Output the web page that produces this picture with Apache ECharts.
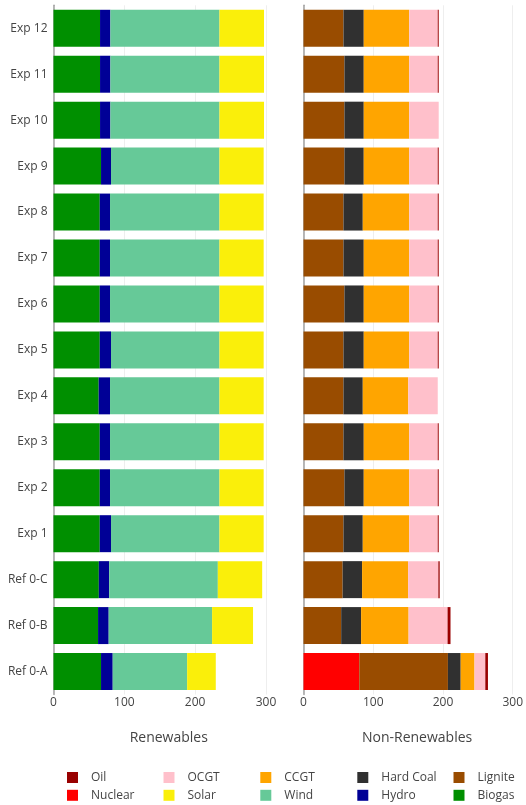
<!DOCTYPE html>
<html>
<head>
<meta charset="utf-8">
<script src="https://cdn.jsdelivr.net/npm/echarts@6/dist/echarts.min.js"></script>
<style>
  html, body { margin: 0; padding: 0; background: #fff; }
  #chart { width: 526px; height: 805px; }
</style>
</head>
<body>
<div id="chart"></div>
<script>
// Categories, bottom to top
const categories = ['Ref 0-A', 'Ref 0-B', 'Ref 0-C', 'Exp 1', 'Exp 2', 'Exp 3', 'Exp 4', 'Exp 5', 'Exp 6', 'Exp 7', 'Exp 8', 'Exp 9', 'Exp 10', 'Exp 11', 'Exp 12'];

// Renewables
const biogas = [67.1, 62.9, 64.0, 65.3, 65.3, 65.3, 63.8, 65.3, 65.3, 65.3, 65.3, 67.1, 65.7, 65.7, 65.7];
const hydro  = [16.5, 15.0, 14.6, 15.9, 14.5, 14.5, 16.0, 15.9, 14.5, 14.5, 14.5, 14.1, 14.6, 14.6, 14.6];
const wind   = [105.1, 146.0, 153.4, 153.1, 154.5, 154.5, 154.5, 153.1, 154.5, 154.5, 154.5, 153.1, 154.0, 154.0, 154.0];
const solar  = [40.4, 57.8, 62.6, 62.4, 62.4, 62.4, 62.4, 62.4, 62.4, 62.4, 62.4, 62.4, 62.9, 62.9, 62.9];

// Non-renewables
const nuclear  = [80.0, 0, 0, 0, 0, 0, 0, 0, 0, 0, 0, 0, 0, 0, 0];
const lignite  = [127.1, 54.0, 56.1, 57.3, 58.7, 57.3, 57.3, 57.3, 58.7, 57.3, 57.3, 58.7, 58.7, 58.7, 57.3];
const hardCoal = [18.3, 28.6, 27.9, 27.7, 27.7, 29.1, 27.7, 29.1, 27.7, 29.1, 27.7, 27.7, 27.7, 27.7, 29.1];
const ccgt     = [19.8, 68.1, 66.0, 66.6, 65.2, 65.2, 65.2, 65.2, 65.2, 65.2, 66.6, 65.2, 65.2, 65.2, 65.2];
const ocgt     = [15.5, 55.9, 43.4, 40.9, 40.9, 40.9, 42.3, 40.9, 40.9, 40.9, 40.9, 40.9, 42.3, 40.9, 40.9];
const oil      = [3.8, 4.2, 1.9, 1.4, 1.4, 1.4, 0, 1.4, 1.4, 1.4, 1.4, 1.4, 0, 1.4, 1.4];

const xTicks = [0, 100, 200, 300];

const colors = {
  'Biogas': '#008f00', 'Hydro': '#000096', 'Wind': '#66c998', 'Solar': '#faef0a',
  'Nuclear': '#ff0000', 'Lignite': '#994c00', 'Hard Coal': '#303030', 'CCGT': '#ffa500',
  'OCGT': '#ffc0cb', 'Oil': '#990000'
};

const FONT = 'Open Sans';
const TXT = '#444';

const chart = echarts.init(document.getElementById('chart'), null, { renderer: 'canvas' });

function barSeries(name, data, idx) {
  return {
    name: name, type: 'bar', stack: 'g' + idx, data: data,
    xAxisIndex: idx, yAxisIndex: idx,
    barCategoryGap: '19.5%',
    itemStyle: { color: colors[name] },
    emphasis: { disabled: true },
    animation: false
  };
}

function xAxisDef(idx, name) {
  return {
    type: 'value', gridIndex: idx, min: xTicks[0], max: xTicks[xTicks.length - 1], interval: 100,
    name: name, nameLocation: 'middle', nameGap: 37,
    nameTextStyle: { fontFamily: FONT, fontSize: 14, color: TXT, padding: [0, 0, 0, 18] },
    axisLine: { show: false }, axisTick: { show: false },
    axisLabel: { fontFamily: FONT, fontSize: 12, color: TXT, margin: 2 },
    splitLine: { show: true, lineStyle: { color: '#eeeeee', width: 1 } }
  };
}

function yAxisDef(idx, showLabels) {
  return {
    type: 'category', gridIndex: idx, data: categories,
    axisLine: { show: true, onZero: false, lineStyle: { color: '#a0a0a0', width: 1.5 } },
    axisTick: { show: false },
    axisLabel: { show: showLabels, fontFamily: FONT, fontSize: 12, color: TXT, margin: 6 },
    splitLine: { show: false }
  };
}

// legend layout: row-major, 5 columns
const legendRows = [
  ['Oil', 'OCGT', 'CCGT', 'Hard Coal', 'Lignite'],
  ['Nuclear', 'Solar', 'Wind', 'Hydro', 'Biogas']
];
const colLeft = [67, 163.5, 260.3, 357.3, 453.5];
const rowTop = [770.5, 788.3];
const legends = [];
legendRows.forEach((row, r) => {
  row.forEach((name, c) => {
    legends.push({
      data: [name], orient: 'horizontal', left: colLeft[c], top: rowTop[r], padding: 0,
      itemWidth: 11, itemHeight: 11, icon: 'rect', selectedMode: false,
      textStyle: { fontFamily: FONT, fontSize: 12, color: TXT, lineHeight: 14, padding: [0, 0, 0, 8] }
    });
  });
});

const option = {
  backgroundColor: '#ffffff',
  animation: false,
  textStyle: { fontFamily: FONT },
  grid: [
    { left: 53.5, top: 5.3, width: 212.5, height: 689.2 },
    { left: 303.5, top: 5.3, width: 212.5, height: 689.2 }
  ],
  xAxis: [xAxisDef(0, 'Renewables'), xAxisDef(1, 'Non-Renewables')],
  yAxis: [yAxisDef(0, true), yAxisDef(1, false)],
  legend: legends,
  series: [
    barSeries('Biogas', biogas, 0),
    barSeries('Hydro', hydro, 0),
    barSeries('Wind', wind, 0),
    barSeries('Solar', solar, 0),
    barSeries('Nuclear', nuclear, 1),
    barSeries('Lignite', lignite, 1),
    barSeries('Hard Coal', hardCoal, 1),
    barSeries('CCGT', ccgt, 1),
    barSeries('OCGT', ocgt, 1),
    barSeries('Oil', oil, 1)
  ]
};
chart.setOption(option);
</script>
</body>
</html>
